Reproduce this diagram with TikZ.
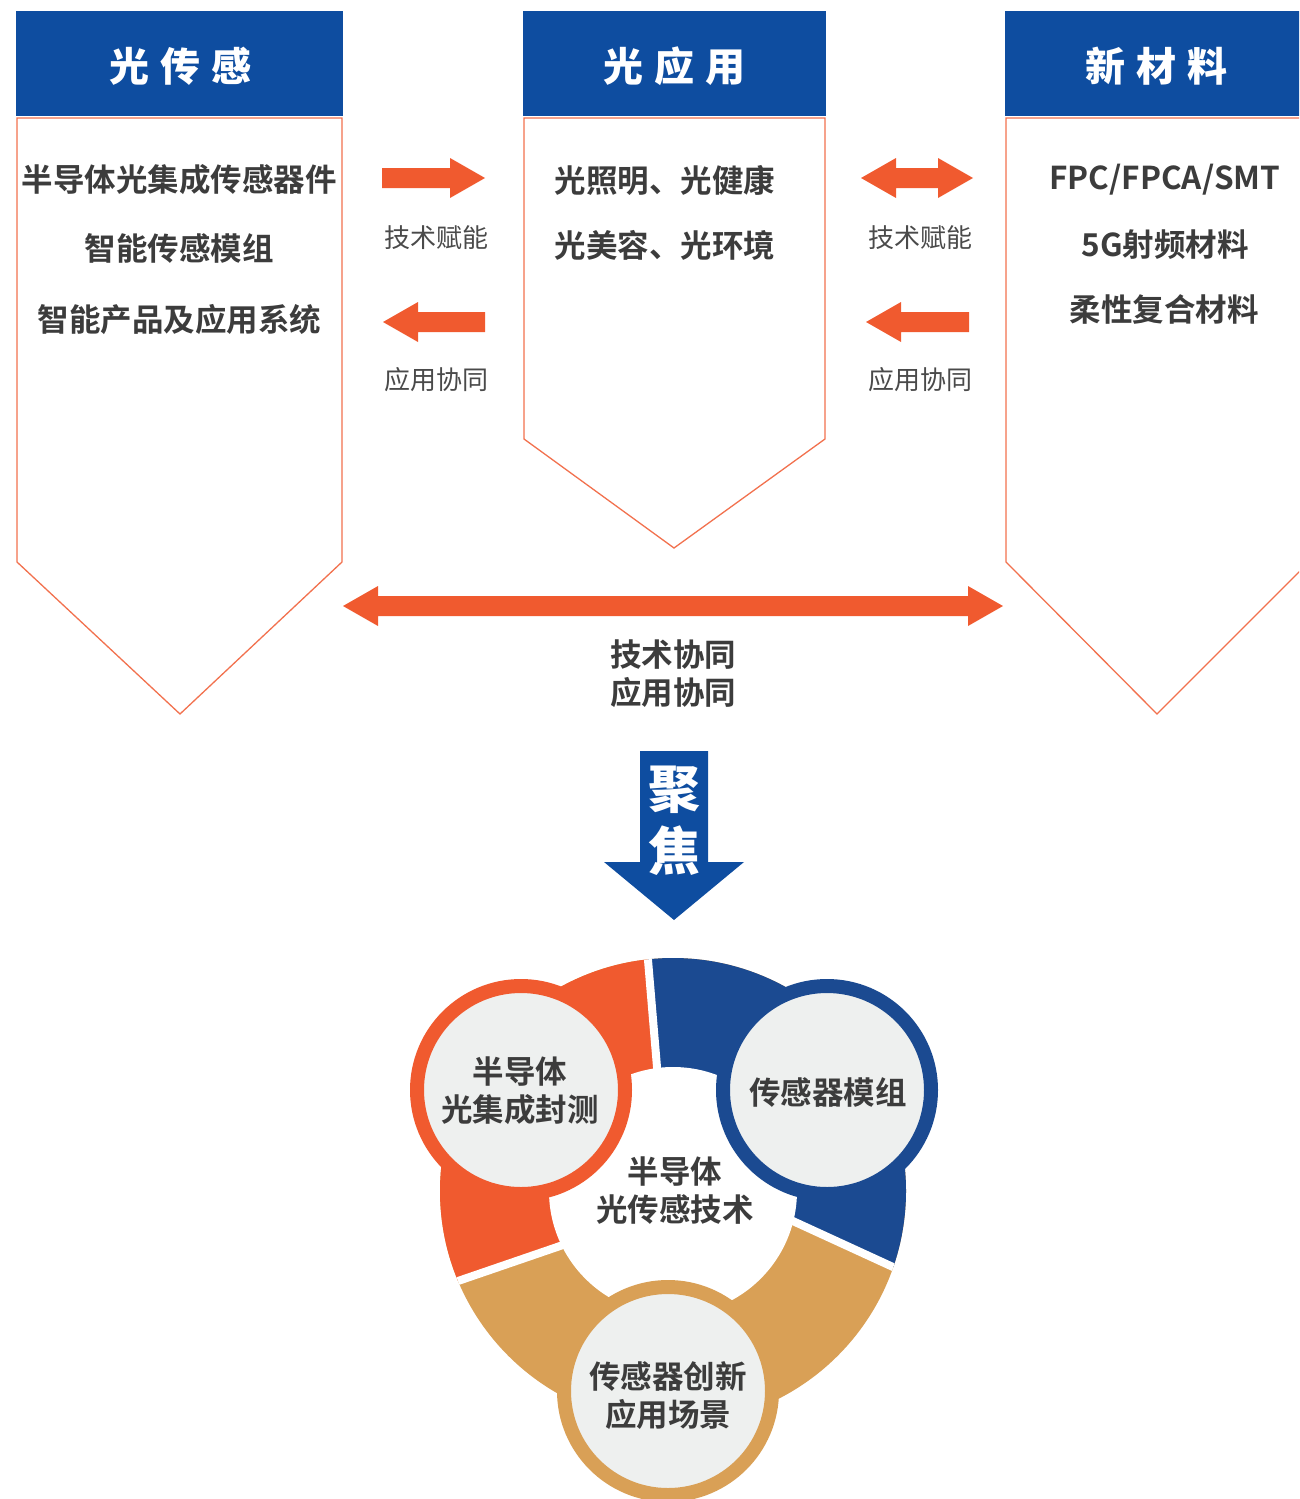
\documentclass[tikz,border=0pt]{standalone}
\usepackage{fontspec}
\usetikzlibrary{calc}
\setmainfont{Noto Sans CJK SC}[BoldFont={Noto Sans CJK SC Bold}]
\IfFontExistsTF{Noto Sans CJK SC Black}
  {\newfontfamily\heavyfont{Noto Sans CJK SC Black}}
  {\newcommand\heavyfont{\bfseries}}
\definecolor{hdrblue}{HTML}{0E4DA0}
\definecolor{arrorange}{HTML}{F05A2F}
\definecolor{lineorange}{HTML}{F2714E}
\definecolor{ringblue}{HTML}{1B4A91}
\definecolor{ringgold}{HTML}{D9A056}
\definecolor{circgrey}{HTML}{EEF0EF}
\definecolor{txtdark}{HTML}{3C3C3C}
\definecolor{txtgrey}{HTML}{4A4A4A}
\tikzset{
  hdrbox/.style={fill=hdrblue, draw=none, inner sep=0pt, minimum height=105pt},
  hdrtxt/.style={text=white, font=\fontsize{40}{44}\selectfont\heavyfont, inner sep=0pt},
  bodyline/.style={draw=lineorange, line width=1.3pt, fill=white},
  bodytxt/.style={text=txtdark, font=\fontsize{31.5}{37}\selectfont\bfseries, inner sep=0pt},
  lbltxt/.style={text=txtgrey, font=\fontsize{26}{30}\selectfont, inner sep=0pt},
  blockarrow/.style={fill=arrorange, draw=none},
  ringcirc/.style={circle, fill=circgrey, line width=14pt, minimum size=208pt, inner sep=0pt},
  cntrtxt/.style={text=txtdark, align=center, font=\fontsize{31.5}{38}\selectfont\bfseries, inner sep=0pt},
  gapline/.style={draw=white, line width=8pt}
}
\begin{document}
\begin{tikzpicture}[x=1pt, y=-1pt]
\useasboundingbox (0,0) rectangle (1299,1499);
\clip (0,0) rectangle (1299,1499);

% ---------- column bodies ----------
\draw[bodyline] (17,118) -- (342,118) -- (342,562) -- (180,714) -- (17,562) -- cycle;
\draw[bodyline] (524,118) -- (825,118) -- (825,439) -- (674,548) -- (524,439) -- cycle;
\draw[bodyline] (1320,118) -- (1006,118) -- (1006,562) -- (1157,714) -- (1320,551) -- cycle;

% ---------- headers ----------
\node[hdrbox, minimum width=327pt] (h1) at (179.5,63.5) {};
\node[hdrbox, minimum width=303pt] (h2) at (674.5,63.5) {};
\node[hdrbox, minimum width=320pt] (h3) at (1165,63.5) {};
\node[hdrtxt] (t1) at (180,66) {光\hspace{11pt}传\hspace{11pt}感};
\node[hdrtxt] (t2) at (674,66) {光\hspace{11pt}应\hspace{11pt}用};
\node[hdrtxt] (t3) at (1156,66) {新\hspace{11pt}材\hspace{11pt}料};

% ---------- column texts ----------
\node[bodytxt] (l1) at (179,180) {半导体光集成传感器件};
\node[bodytxt] (l2) at (179,248) {智能传感模组};
\node[bodytxt] (l3) at (179.5,320) {智能产品及应用系统};
\node[bodytxt] (m1) at (665,180) {光照明、光健康};
\node[bodytxt] (m2) at (665,245) {光美容、光环境};
\node[bodytxt] (r1) at (1165,180) {FPC/FPCA/SMT};
\node[bodytxt] (r2) at (1165,245) {5G射频材料};
\node[bodytxt] (r3) at (1164,309) {柔性复合材料};

% ---------- small arrows ----------
\fill[blockarrow] (382,168) -- (450,168) -- (450,158) -- (485,178) -- (450,198) -- (450,188) -- (382,188) -- cycle;
\fill[blockarrow] (485,312) -- (418,312) -- (418,302) -- (383,322) -- (418,342) -- (418,332) -- (485,332) -- cycle;
\fill[blockarrow] (861,178) -- (896,158) -- (896,168) -- (938,168) -- (938,158) -- (973,178) -- (938,198) -- (938,188) -- (896,188) -- (896,198) -- cycle;
\fill[blockarrow] (969,312) -- (901,312) -- (901,302) -- (866,322) -- (901,342) -- (901,332) -- (969,332) -- cycle;
\node[lbltxt] (a1) at (436,238) {技术赋能};
\node[lbltxt] (a2) at (436,380) {应用协同};
\node[lbltxt] (a3) at (920,238) {技术赋能};
\node[lbltxt] (a4) at (920,380) {应用协同};

% ---------- big double arrow ----------
\fill[blockarrow] (343,606) -- (378,586) -- (378,596) -- (968,596) -- (968,586) -- (1003,606) -- (968,626) -- (968,616) -- (378,616) -- (378,626) -- cycle;
\node[cntrtxt] (sy) at (673,674) {技术协同\\应用协同};

% ---------- focus arrow ----------
\fill[hdrblue] (640,751) -- (708,751) -- (708,862) -- (744,862) -- (674,920) -- (604,862) -- (640,862) -- cycle;
\node[text=white, font=\fontsize{52}{60}\selectfont\heavyfont, inner sep=0pt] (f1) at (674,790) {聚};
\node[text=white, font=\fontsize{52}{60}\selectfont\heavyfont, inner sep=0pt] (f2) at (674,851) {焦};

% ---------- ring ----------
\coordinate (rc) at (673,1191);
\coordinate (ti) at (657,1067);
\coordinate (to) at (630,746);
\coordinate (ri) at (795,1222);
\coordinate (ro) at (1089,1357);
\coordinate (li) at (560,1246);
\coordinate (lo) at (254,1351);
\begin{scope}
  \clip (rc) circle[radius=233pt];
  \fill[ringgold] (rc) circle[radius=240pt];
  \fill[arrorange] (rc) -- (ti) -- (to) -- (150,746) -- (150,1351) -- (lo) -- (li) -- cycle;
  \fill[ringblue] (rc) -- (ti) -- (to) -- (1200,746) -- (1200,1357) -- (ro) -- (ri) -- cycle;
  \fill[white] (rc) circle[radius=124pt];
  \draw[gapline] ($(ti)!-0.05!(to)$) -- (to);
  \draw[gapline] ($(ri)!-0.05!(ro)$) -- (ro);
  \draw[gapline] ($(li)!-0.05!(lo)$) -- (lo);
\end{scope}
\node[cntrtxt] (ct) at (675,1191) {半导体\\光传感技术};

\node[ringcirc, draw=arrorange] (ca) at (521,1090) {};
\node[ringcirc, draw=ringblue] (cb) at (827,1090) {};
\node[ringcirc, draw=ringgold] (cc) at (668,1391) {};
\node[cntrtxt] (cat) at (520,1091) {半导体\\光集成封测};
\node[cntrtxt] (cbt) at (828,1092) {传感器模组};
\node[cntrtxt] (cct) at (668,1396) {传感器创新\\应用场景};
\end{tikzpicture}
\end{document}
